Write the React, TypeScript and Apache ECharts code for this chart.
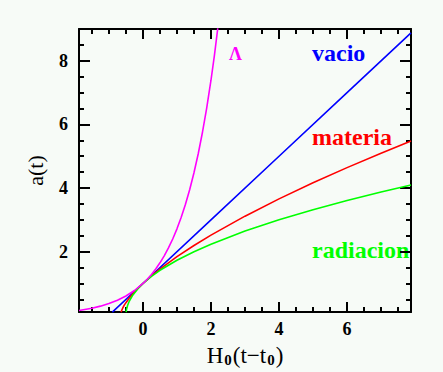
import React, { useEffect, useRef } from "react";
import * as echarts from "echarts";

// Axis ranges and ticks
const xRange = [-1.88, 7.88];
const yRange = [0.1, 9];
const xMajorTicks = [0, 2, 4, 6];
const xMinorTicks = [-1.5, -1, -0.5, 0.5, 1, 1.5, 2.5, 3, 3.5, 4.5, 5, 5.5, 6.5, 7, 7.5];
const yMajorTicks = [2, 4, 6, 8];
const yMinorTicks = [0.5, 1, 1.5, 2.5, 3, 3.5, 4.5, 5, 5.5, 6.5, 7, 7.5, 8.5];

// Curves: [H0(t-t0), a(t)]
const lambdaCurve = [
  [-1.88, 0.153], [-1.5, 0.223], [-1.25, 0.287], [-1.0, 0.368], [-0.75, 0.472],
  [-0.5, 0.607], [-0.25, 0.779], [0, 1.0], [0.125, 1.133], [0.25, 1.284],
  [0.375, 1.455], [0.5, 1.649], [0.625, 1.868], [0.75, 2.117], [0.875, 2.399],
  [1.0, 2.718], [1.125, 3.08], [1.25, 3.49], [1.375, 3.955], [1.5, 4.482],
  [1.625, 5.078], [1.75, 5.755], [1.875, 6.521], [2.0, 7.389], [2.1, 8.166], [2.2, 9.025],
];
const vacioCurve = [
  [-0.9, 0.1], [0, 1.0], [2, 3.0], [4, 5.0], [6, 7.0], [7.88, 8.88],
];
const materiaCurve = [
  [-0.646, 0.1], [-0.6, 0.215], [-0.55, 0.32], [-0.5, 0.397], [-0.4, 0.543],
  [-0.25, 0.731], [0, 1.0], [0.25, 1.24], [0.5, 1.452], [1, 1.842], [1.5, 2.194],
  [2, 2.52], [3, 3.116], [4, 3.659], [5, 4.165], [6, 4.642], [7, 5.095], [7.88, 5.478],
];
const radiacionCurve = [
  [-0.495, 0.1], [-0.48, 0.2], [-0.45, 0.316], [-0.4, 0.447], [-0.3, 0.632],
  [-0.15, 0.837], [0, 1.0], [0.25, 1.225], [0.5, 1.414], [1, 1.732], [1.5, 2.0],
  [2, 2.236], [3, 2.646], [4, 3.0], [5, 3.317], [6, 3.606], [7, 3.873], [7.88, 4.094],
];

const curveNames = ["Λ", "vacio", "materia", "radiacion"];
const curveColors = ["#ff00ff", "#0000ff", "#ff0000", "#00ff00"];

const FONT = "'Liberation Serif', 'Times New Roman', serif";

export default function App() {
  const ref = useRef<HTMLDivElement>(null);

  useEffect(() => {
    if (!ref.current) return;
    const chart = echarts.init(ref.current, null, { renderer: "svg" });

    const axisLine = { show: true, onZero: false, lineStyle: { color: "#000", width: 2 } };
    const tickStyle = { color: "#000", width: 2 };
    const labelStyle = {
      fontFamily: FONT,
      fontWeight: "bold" as const,
      fontSize: 18,
      color: "#000",
    };

    const xAxisBase = (position: string, major: boolean, labels: boolean, extra: any = {}) => ({
      type: "value",
      position,
      min: xRange[0],
      max: xRange[1],
      axisLine: major ? axisLine : { show: false, onZero: false },
      axisTick: {
        show: true,
        inside: true,
        length: major ? 10 : 5,
        customValues: major ? xMajorTicks : xMinorTicks,
        lineStyle: tickStyle,
      },
      axisLabel: labels
        ? { show: true, customValues: xMajorTicks, margin: 8, ...labelStyle }
        : { show: false },
      splitLine: { show: false },
      ...extra,
    });
    const yAxisBase = (position: string, major: boolean, labels: boolean, extra: any = {}) => ({
      type: "value",
      position,
      min: yRange[0],
      max: yRange[1],
      axisLine: major ? axisLine : { show: false, onZero: false },
      axisTick: {
        show: true,
        inside: true,
        length: major ? 11 : 5,
        customValues: major ? yMajorTicks : yMinorTicks,
        lineStyle: tickStyle,
      },
      axisLabel: labels
        ? { show: true, customValues: yMajorTicks, margin: 11, ...labelStyle }
        : { show: false },
      splitLine: { show: false },
      ...extra,
    });

    const curves = [lambdaCurve, vacioCurve, materiaCurve, radiacionCurve];
    const order = [1, 2, 3, 0];

    chart.setOption({
      animation: false,
      backgroundColor: "#f7fbf7",
      grid: { left: 79, top: 29, width: 332, height: 288.5, containLabel: false },
      xAxis: [
        xAxisBase("bottom", true, true, {
          name: "{m|H}{s|0}{m|(t−t}{s|0}{m|)}",
          nameLocation: "middle",
          nameGap: 26,
          nameTextStyle: {
            rich: {
              m: { fontFamily: FONT, fontSize: 23, color: "#000", lineHeight: 26, verticalAlign: "bottom" },
              s: { fontFamily: FONT, fontSize: 15, fontWeight: "bold", color: "#000", lineHeight: 26, verticalAlign: "bottom", padding: [9, 1, 0, 1] },
            },
          },
        }),
        xAxisBase("bottom", false, false),
        xAxisBase("top", true, false),
        xAxisBase("top", false, false),
      ],
      yAxis: [
        yAxisBase("left", true, true, {
          name: "a(t)",
          nameLocation: "middle",
          nameGap: 33,
          nameTextStyle: { fontFamily: FONT, fontSize: 22, color: "#000" },
        }),
        yAxisBase("left", false, false),
        yAxisBase("right", true, false),
        yAxisBase("right", false, false),
      ],
      series: order.map((i) => ({
        name: curveNames[i],
        type: "line",
        xAxisIndex: 0,
        yAxisIndex: 0,
        data: curves[i],
        showSymbol: false,
        symbol: "none",
        clip: true,
        lineStyle: { color: curveColors[i], width: 1.6 },
        itemStyle: { color: curveColors[i] },
      })),
      graphic: [
        { type: "text", x: 229, y: 54, style: { text: curveNames[0], fill: curveColors[0], font: `bold 18px ${FONT}`, textVerticalAlign: "middle" } },
        { type: "text", x: 312, y: 53, style: { text: curveNames[1], fill: curveColors[1], font: `bold 24px ${FONT}`, textVerticalAlign: "middle" } },
        { type: "text", x: 312, y: 137, style: { text: curveNames[2], fill: curveColors[2], font: `bold 24px ${FONT}`, textVerticalAlign: "middle" } },
        { type: "text", x: 312, y: 249.5, style: { text: curveNames[3], fill: curveColors[3], font: `bold 24px ${FONT}`, textVerticalAlign: "middle" } },
      ],
    });

    return () => chart.dispose();
  }, []);

  return (
    <div
      ref={ref}
      style={{ position: "fixed", left: 0, top: 0, width: 443, height: 372, background: "#f7fbf7" }}
    />
  );
}
